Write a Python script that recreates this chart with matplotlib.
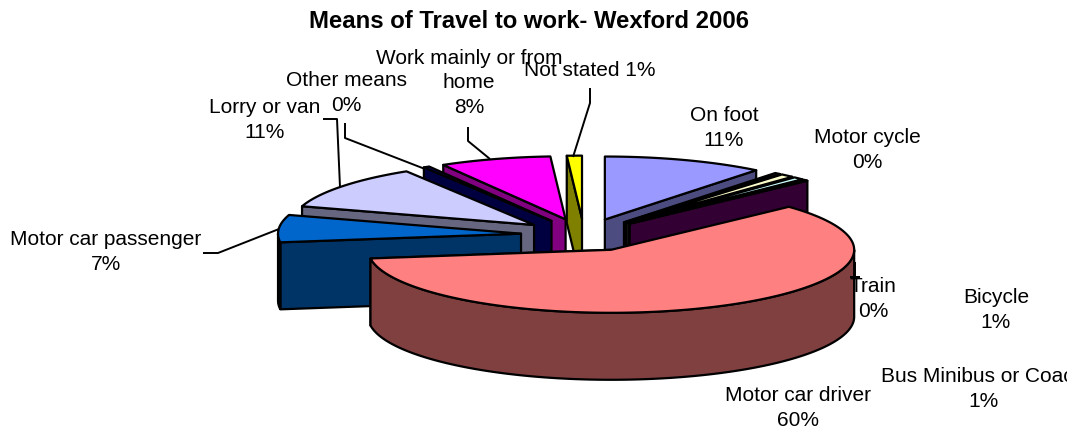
import numpy as np
import matplotlib
matplotlib.use('Agg')
import matplotlib.pyplot as plt

# share of each means of travel, clockwise from 12 o'clock (unrounded values are estimates)
means = ['On foot', 'Motor cycle', 'Bicycle', 'Bus Minibus or Coach', 'Train', 'Motor car driver',
         'Motor car passenger', 'Lorry or van', 'Other means', 'Work mainly or from home', 'Not stated']
shares = [10.7, 0.4, 0.9, 0.7, 0.35, 59.75, 7.0, 11.4, 0.4, 7.4, 1.0]
top_colors = ['#9999FF', '#993366', '#FFFFCC', '#CCFFFF', '#660066', '#FF8080',
              '#0066CC', '#CCCCFF', '#000080', '#FF00FF', '#FFFF00']
side_colors = ['#4C4C80', '#4C1933', '#808066', '#668080', '#330033', '#804040',
               '#003366', '#666680', '#000040', '#800080', '#808000']
label_text = ['On foot\n11%', 'Motor cycle\n0%', 'Bicycle\n1%', 'Bus Minibus or Coach\n1%', 'Train\n0%',
              'Motor car driver\n60%', 'Motor car passenger\n7%', 'Lorry or van\n11%', 'Other means\n0%',
              'Work mainly or from\nhome\n8%', 'Not stated 1%']

# label centres in pixels
label_x = [724, 867, 996, 983, 873, 798, 106, 265, 346, 469, 590]
label_y = [128, 150, 310, 389, 299, 408, 252, 120, 93, 83, 71]

# leader lines in pixels
leaders = [
    ([203, 218, 279], [253, 253, 229]),
    ([323, 337, 340], [119, 119, 187]),
    ([345, 345, 425], [123, 138, 169]),
    ([468, 468, 490], [127, 141, 159]),
    ([590, 590, 573], [88, 103, 157]),
    ([850, 860], [277, 277]),
    ([855, 855], [262, 277]),
]

# pie geometry in pixels
CX, CY = 584, 235
RX, RY = 243, 63
DEPTH = 67
EXPLODE = 0.26
LW = 1.6

fig = plt.figure(figsize=(10.77, 4.37), dpi=100)
ax = fig.add_axes([0, 0, 1, 1])
ax.set_xlim(0, 1077)
ax.set_ylim(437, 0)
ax.axis('off')


def rim(cx, cy, t0, t1):
    t = np.radians(np.linspace(t0, t1, max(int(abs(t1 - t0) * 2), 2)))
    return cx + RX * np.sin(t), cy - RY * np.cos(t)


def draw_slice(t0, t1, top, side, z):
    mid = np.radians((t0 + t1) / 2)
    cx = CX + EXPLODE * RX * np.sin(mid)
    cy = CY - EXPLODE * RY * np.cos(mid)

    # cut face that looks at the viewer
    t_cut = t1 if (t0 + t1) / 2 < 180 else t0
    ex, ey = rim(cx, cy, t_cut, t_cut)
    wall_x = [cx, ex[0], ex[0], cx]
    wall_y = [cy, ey[0], ey[0] + DEPTH, cy + DEPTH]
    ax.fill(wall_x, wall_y, fc=side, ec='black', lw=LW, joinstyle='round', zorder=z)

    # outer rim, front half only
    a, b = max(t0, 90), min(t1, 270)
    if a < b:
        rx, ry = rim(cx, cy, a, b)
        ax.fill(np.r_[rx, rx[::-1]], np.r_[ry, ry[::-1] + DEPTH], fc=side, ec='black', lw=LW, zorder=z)

    # top face
    rx, ry = rim(cx, cy, t0, t1)
    ax.fill(np.r_[cx, rx], np.r_[cy, ry], fc=top, ec='black', lw=LW, joinstyle='round', zorder=z + 0.5)


edges = np.r_[0, np.cumsum(shares)] / np.sum(shares) * 360
mids = (edges[:-1] + edges[1:]) / 2
# back to front
order = np.argsort(-np.cos(np.radians(mids)))
for z, i in enumerate(order):
    draw_slice(edges[i], edges[i + 1], top_colors[i], side_colors[i], z + 2)

for lx, ly in leaders:
    ax.plot(lx, ly, color='black', lw=1.4, solid_capstyle='butt', zorder=30)

for name, x, y in zip(label_text, label_x, label_y):
    ax.text(x, y, name, ha='center', va='center', fontsize=15, family='Liberation Sans',
            linespacing=1.37, color='black', zorder=40)

ax.text(529, 22, 'Means of Travel to work- Wexford 2006', ha='center', va='center', fontsize=17.2,
        fontweight='bold', family='Liberation Sans', zorder=40)

# the original chart area stops 10px short of the right edge and cuts the bus label there
ax.axvspan(1067, 1077, color='white', lw=0, zorder=50)

fig.savefig('out.png', dpi=100)
